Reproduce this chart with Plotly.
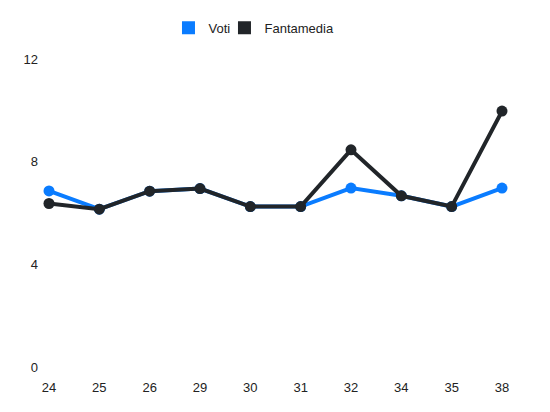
import plotly.graph_objects as go

giornate = ["24", "25", "26", "29", "30", "31", "32", "34", "35", "38"]
voti = [6.86, 6.15, 6.85, 6.95, 6.25, 6.25, 6.97, 6.67, 6.25, 6.97]
fantamedia = [6.37, 6.15, 6.85, 6.95, 6.25, 6.25, 8.46, 6.67, 6.25, 9.97]

BLUE = "#0a7cff"
DARK = "#212529"
FONT = "Liberation Sans, Arial, sans-serif"

fig = go.Figure()
fig.add_trace(go.Scatter(
    x=giornate, y=voti, mode="lines+markers", name="Voti", showlegend=False,
    line=dict(color=BLUE, width=4), marker=dict(color=BLUE, size=11),
    cliponaxis=False,
))
fig.add_trace(go.Scatter(
    x=giornate, y=fantamedia, mode="lines+markers", name="Fantamedia", showlegend=False,
    line=dict(color=DARK, width=4), marker=dict(color=DARK, size=11),
    cliponaxis=False,
))
# legend entries (square swatches), one per legend for exact placement
for name, col, lg in [("Voti", BLUE, "legend"), ("Fantamedia", DARK, "legend2")]:
    fig.add_trace(go.Scatter(
        x=[None], y=[None], mode="markers", name=name, legend=lg,
        marker=dict(color=col, size=13, symbol="square"),
    ))

leg_common = dict(
    orientation="h", xanchor="left", yanchor="middle",
    xref="container", yref="container", y=0.951,
    font=dict(family=FONT, size=13, color="#222"),
    itemsizing="trace", itemclick=False, itemdoubleclick=False,
    bgcolor="rgba(0,0,0,0)",
)

# page body has an 8px margin, so the figure is offset by 8px
fig.update_layout(
    width=542, height=404,
    margin=dict(l=41, r=48, t=51, b=45, autoexpand=False),
    paper_bgcolor="white", plot_bgcolor="white",
    font=dict(family=FONT, size=13, color="#222"),
    showlegend=True,
    legend=dict(x=0.2961, **leg_common),
    legend2=dict(x=0.3994, **leg_common),
    xaxis=dict(
        type="category", range=[0, 9], showgrid=False, zeroline=False,
        showline=False, ticks="", ticklabelstandoff=11,
        tickfont=dict(family=FONT, size=13, color="#222"),
    ),
    yaxis=dict(
        range=[0, 12], tickvals=[0, 4, 8, 12], showgrid=False, zeroline=False,
        showline=False, ticks="", ticklabelstandoff=10,
        tickfont=dict(family=FONT, size=13, color="#222"),
    ),
)

fig.write_html("out.html")
